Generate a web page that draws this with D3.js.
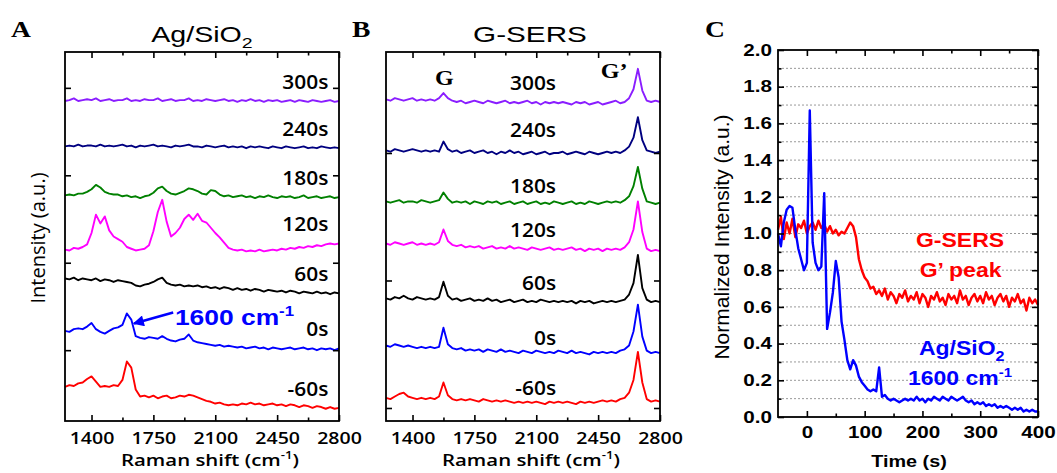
<!DOCTYPE html>
<html>
<head>
  <meta charset="utf-8">
  <title>Ag/SiO2 vs G-SERS</title>
  <script src="https://cdn.jsdelivr.net/npm/d3@7/dist/d3.min.js"></script>
  <style>
    body { margin: 0; background: #fff; }
  </style>
</head>
<body>
  <svg width="1057" height="473" id="mainsvg"></svg>
  <script>
    // Raman shift grid (cm-1), shared by panels A and B
    const ramanShift = [1250, 1275, 1300, 1325, 1350, 1375, 1400, 1425, 1450, 1475,
      1500, 1525, 1550, 1575, 1600, 1625, 1650, 1675, 1700, 1725,
      1750, 1775, 1800, 1825, 1850, 1875, 1900, 1925, 1950, 1975,
      2000, 2025, 2050, 2075, 2100, 2125, 2150, 2175, 2200, 2225,
      2250, 2275, 2300, 2325, 2350, 2375, 2400, 2425, 2450, 2475,
      2500, 2525, 2550, 2575, 2600, 2625, 2650, 2675, 2700, 2725,
      2750, 2775, 2800];
    const ramanTicks = [1400, 1750, 2100, 2450, 2800];
    const ramanMinor = [1575, 1925, 2275, 2625];
    const timeLabels = ['300s', '240s', '180s', '120s', '60s', '0s', '-60s'];
    const traceColors = ['#8a1dff', '#000080', '#008000', '#ff00ff', '#000000', '#0000ff', '#ff0000'];

    // A: Ag/SiO2 spectra, stacked (a.u.)
    const ag300 = [2.85, 2.86, 2.88, 2.85, 2.86, 2.87, 2.86, 2.88, 2.85, 2.86,
      2.87, 2.85, 2.86, 2.86, 2.88, 2.85, 2.86, 2.85, 2.87, 2.86,
      2.86, 2.88, 2.85, 2.86, 2.87, 2.85, 2.86, 2.86, 2.88, 2.85,
      2.86, 2.85, 2.87, 2.86, 2.85, 2.86, 2.87, 2.85, 2.86, 2.84,
      2.86, 2.85, 2.87, 2.85, 2.86, 2.84, 2.86, 2.85, 2.86, 2.84,
      2.85, 2.86, 2.84, 2.86, 2.85, 2.84, 2.86, 2.85, 2.84, 2.85,
      2.86, 2.84, 2.85];
    const ag240 = [2.33, 2.34, 2.33, 2.35, 2.33, 2.34, 2.34, 2.33, 2.35, 2.33,
      2.34, 2.33, 2.34, 2.35, 2.33, 2.34, 2.32, 2.34, 2.33, 2.34,
      2.35, 2.33, 2.34, 2.33, 2.32, 2.34, 2.33, 2.34, 2.35, 2.33,
      2.33, 2.32, 2.34, 2.33, 2.32, 2.33, 2.34, 2.32, 2.33, 2.32,
      2.33, 2.31, 2.33, 2.32, 2.33, 2.32, 2.31, 2.33, 2.32, 2.31,
      2.33, 2.32, 2.31, 2.32, 2.33, 2.31, 2.32, 2.31, 2.33, 2.32,
      2.31, 2.32, 2.31];
    const ag180 = [1.77, 1.78, 1.77, 1.79, 1.79, 1.81, 1.84, 1.89, 1.86, 1.81,
      1.79, 1.78, 1.78, 1.76, 1.77, 1.75, 1.76, 1.74, 1.76, 1.77,
      1.80, 1.85, 1.87, 1.82, 1.79, 1.78, 1.80, 1.82, 1.85, 1.84,
      1.82, 1.79, 1.78, 1.83, 1.82, 1.78, 1.76, 1.77, 1.75, 1.76,
      1.77, 1.75, 1.76, 1.74, 1.76, 1.75, 1.77, 1.75, 1.74, 1.76,
      1.75, 1.76, 1.74, 1.75, 1.77, 1.74, 1.75, 1.76, 1.74, 1.75,
      1.76, 1.74, 1.75];
    const ag120 = [1.15, 1.14, 1.17, 1.16, 1.18, 1.21, 1.34, 1.55, 1.45, 1.53,
      1.37, 1.30, 1.27, 1.24, 1.18, 1.16, 1.14, 1.15, 1.16, 1.20,
      1.36, 1.58, 1.72, 1.47, 1.30, 1.34, 1.40, 1.50, 1.55, 1.49,
      1.56, 1.48, 1.46, 1.40, 1.34, 1.29, 1.23, 1.17, 1.15, 1.14,
      1.15, 1.13, 1.14, 1.13, 1.15, 1.13, 1.14, 1.15, 1.14, 1.16,
      1.15, 1.17, 1.16, 1.18, 1.17, 1.19, 1.18, 1.20, 1.19, 1.21,
      1.22, 1.21, 1.22];
    const ag60 = [0.82, 0.81, 0.83, 0.80, 0.82, 0.81, 0.80, 0.82, 0.79, 0.81,
      0.80, 0.78, 0.80, 0.79, 0.78, 0.77, 0.74, 0.73, 0.75, 0.76,
      0.78, 0.81, 0.83, 0.77, 0.75, 0.74, 0.75, 0.73, 0.74, 0.73,
      0.74, 0.72, 0.73, 0.71, 0.72, 0.70, 0.72, 0.71, 0.69, 0.71,
      0.69, 0.70, 0.68, 0.70, 0.69, 0.67, 0.69, 0.68, 0.67, 0.68,
      0.66, 0.68, 0.67, 0.65, 0.67, 0.66, 0.65, 0.67, 0.65, 0.66,
      0.64, 0.66, 0.65];
    const ag0 = [0.22, 0.21, 0.24, 0.25, 0.24, 0.27, 0.31, 0.24, 0.21, 0.19,
      0.22, 0.25, 0.26, 0.29, 0.42, 0.35, 0.16, 0.14, 0.13, 0.15,
      0.14, 0.13, 0.16, 0.13, 0.11, 0.10, 0.12, 0.13, 0.18, 0.11,
      0.09, 0.08, 0.07, 0.06, 0.05, 0.06, 0.04, 0.05, 0.04, 0.03,
      0.04, 0.02, 0.03, 0.04, 0.02, 0.03, 0.01, 0.03, 0.02, 0.01,
      0.02, 0.03, 0.01, 0.02, 0.03, 0.01, 0.02, 0.00, 0.02, 0.01,
      0.02, 0.00, 0.02];
    const agm60 = [-0.42, -0.40, -0.41, -0.38, -0.37, -0.33, -0.30, -0.36, -0.42, -0.41,
      -0.42, -0.40, -0.41, -0.34, -0.13, -0.20, -0.45, -0.53, -0.52, -0.54,
      -0.52, -0.55, -0.53, -0.52, -0.55, -0.54, -0.52, -0.53, -0.51, -0.52,
      -0.54, -0.56, -0.58, -0.59, -0.61, -0.60, -0.62, -0.63, -0.62, -0.63,
      -0.61, -0.62, -0.60, -0.62, -0.61, -0.63, -0.62, -0.61, -0.63, -0.62,
      -0.64, -0.62, -0.63, -0.65, -0.63, -0.64, -0.66, -0.64, -0.65, -0.67,
      -0.65, -0.67, -0.66];

    // B: G-SERS spectra, stacked (a.u.)
    const gs300 = [2.42, 2.41, 2.43, 2.42, 2.41, 2.42, 2.43, 2.41, 2.42, 2.41,
      2.42, 2.41, 2.43, 2.47, 2.43, 2.41, 2.40, 2.41, 2.39, 2.40,
      2.41, 2.40, 2.39, 2.41, 2.40, 2.39, 2.40, 2.41, 2.39, 2.40,
      2.39, 2.40, 2.41, 2.39, 2.40, 2.38, 2.40, 2.39, 2.40, 2.39,
      2.40, 2.39, 2.38, 2.40, 2.39, 2.40, 2.38, 2.39, 2.40, 2.38,
      2.39, 2.40, 2.41, 2.39, 2.40, 2.43, 2.50, 2.66, 2.49, 2.41,
      2.40, 2.41, 2.40];
    const gs240 = [2.02, 2.01, 2.03, 2.02, 2.01, 2.02, 2.03, 2.02, 2.01, 2.02,
      2.01, 2.02, 2.01, 2.09, 2.03, 2.01, 2.02, 2.00, 2.01, 2.02,
      2.00, 2.01, 2.02, 2.00, 2.01, 1.99, 2.01, 2.00, 2.02, 2.00,
      2.01, 1.99, 2.00, 2.01, 1.99, 2.00, 2.01, 1.99, 2.00, 2.00,
      2.01, 1.99, 2.00, 2.01, 2.00, 1.99, 2.01, 2.00, 1.99, 2.00,
      2.01, 2.00, 2.01, 2.00, 2.02, 2.05, 2.12, 2.28, 2.10, 2.02,
      2.01, 2.00, 2.01];
    const gs180 = [1.62, 1.61, 1.62, 1.63, 1.61, 1.62, 1.62, 1.61, 1.63, 1.62,
      1.61, 1.62, 1.63, 1.69, 1.64, 1.61, 1.62, 1.61, 1.62, 1.60,
      1.62, 1.61, 1.60, 1.62, 1.61, 1.62, 1.60, 1.61, 1.62, 1.60,
      1.61, 1.62, 1.60, 1.61, 1.62, 1.60, 1.61, 1.60, 1.62, 1.61,
      1.60, 1.61, 1.62, 1.60, 1.61, 1.60, 1.62, 1.61, 1.60, 1.61,
      1.62, 1.61, 1.62, 1.61, 1.63, 1.66, 1.74, 1.89, 1.72, 1.62,
      1.61, 1.60, 1.61];
    const gs120 = [1.29, 1.28, 1.30, 1.29, 1.28, 1.29, 1.30, 1.28, 1.29, 1.28,
      1.29, 1.28, 1.30, 1.40, 1.31, 1.28, 1.27, 1.28, 1.26, 1.27,
      1.26, 1.27, 1.25, 1.26, 1.27, 1.25, 1.26, 1.25, 1.27, 1.25,
      1.26, 1.25, 1.24, 1.26, 1.25, 1.24, 1.25, 1.26, 1.24, 1.25,
      1.24, 1.25, 1.26, 1.24, 1.25, 1.23, 1.25, 1.24, 1.25, 1.23,
      1.25, 1.24, 1.25, 1.24, 1.26, 1.30, 1.40, 1.62, 1.38, 1.25,
      1.23, 1.24, 1.23];
    const gs60 = [0.86, 0.85, 0.87, 0.86, 0.88, 0.86, 0.85, 0.87, 0.86, 0.85,
      0.86, 0.85, 0.87, 0.99, 0.88, 0.85, 0.86, 0.84, 0.85, 0.86,
      0.84, 0.85, 0.84, 0.86, 0.84, 0.85, 0.83, 0.84, 0.85, 0.83,
      0.84, 0.85, 0.83, 0.84, 0.83, 0.85, 0.84, 0.83, 0.84, 0.83,
      0.84, 0.83, 0.84, 0.82, 0.84, 0.83, 0.84, 0.82, 0.83, 0.84,
      0.83, 0.84, 0.83, 0.84, 0.85, 0.89, 0.98, 1.20, 0.94, 0.85,
      0.83, 0.84, 0.83];
    const gs0 = [0.49, 0.48, 0.50, 0.49, 0.48, 0.49, 0.48, 0.47, 0.48, 0.47,
      0.48, 0.47, 0.48, 0.63, 0.50, 0.47, 0.46, 0.47, 0.45, 0.46,
      0.45, 0.46, 0.44, 0.46, 0.45, 0.44, 0.46, 0.44, 0.45, 0.44,
      0.43, 0.45, 0.44, 0.43, 0.45, 0.44, 0.43, 0.44, 0.43, 0.45,
      0.44, 0.43, 0.45, 0.43, 0.44, 0.43, 0.42, 0.44, 0.43, 0.44,
      0.43, 0.44, 0.43, 0.45, 0.46, 0.49, 0.60, 0.81, 0.56, 0.45,
      0.43, 0.44, 0.43];
    const gsm60 = [0.08, 0.07, 0.09, 0.11, 0.12, 0.09, 0.08, 0.07, 0.08, 0.07,
      0.08, 0.07, 0.09, 0.20, 0.10, 0.07, 0.06, 0.07, 0.06, 0.07,
      0.06, 0.05, 0.07, 0.06, 0.05, 0.06, 0.05, 0.06, 0.05, 0.04,
      0.05, 0.04, 0.05, 0.04, 0.05, 0.04, 0.03, 0.05, 0.04, 0.05,
      0.04, 0.05, 0.04, 0.03, 0.05, 0.04, 0.05, 0.04, 0.05, 0.06,
      0.05, 0.06, 0.05, 0.07, 0.08, 0.12, 0.22, 0.44, 0.20, 0.07,
      0.05, 0.06, 0.05];

    // C: normalized intensity vs time
    const timeC = [-50, -45, -40, -35, -30, -25, -20, -15, -10, -5,
      0, 5, 10, 15, 20, 25, 30, 35, 40, 45,
      50, 55, 60, 65, 70, 75, 80, 85, 90, 95,
      100, 105, 110, 115, 120, 125, 130, 135, 140, 145,
      150, 155, 160, 165, 170, 175, 180, 185, 190, 195,
      200, 205, 210, 215, 220, 225, 230, 235, 240, 245,
      250, 255, 260, 265, 270, 275, 280, 285, 290, 295,
      300, 305, 310, 315, 320, 325, 330, 335, 340, 345,
      350, 355, 360, 365, 370, 375, 380, 385, 390, 395,
      400];
    const gsersGprime = [1.02, 1.09, 0.97, 1.06, 1.00, 1.08, 0.98, 1.05, 1.03, 1.07,
      1.00, 1.04, 1.06, 1.02, 1.07, 1.03, 1.05, 1.01, 1.04, 1.00,
      1.02, 0.99, 1.01, 1.00, 1.03, 1.06, 1.04, 0.98, 0.86, 0.80,
      0.76, 0.74, 0.70, 0.71, 0.67, 0.69, 0.66, 0.70, 0.64, 0.68,
      0.66, 0.62, 0.67, 0.65, 0.69, 0.63, 0.66, 0.64, 0.68, 0.62,
      0.67, 0.65, 0.60, 0.66, 0.64, 0.68, 0.63, 0.65, 0.61, 0.67,
      0.64, 0.66, 0.62, 0.69, 0.64, 0.66, 0.61, 0.65, 0.67, 0.63,
      0.66, 0.62, 0.68, 0.64, 0.66, 0.61, 0.65, 0.67, 0.63, 0.66,
      0.60, 0.65, 0.63, 0.67, 0.62, 0.64, 0.58, 0.65, 0.62, 0.64,
      0.61];
    const agSiO2Peak = [1.00, 0.93, 1.06, 1.13, 1.15, 1.14, 1.02, 0.92, 0.86, 0.80,
      0.84, 1.67, 0.95, 0.84, 0.80, 0.82, 1.22, 0.48, 0.57, 0.68,
      0.85, 0.76, 0.52, 0.42, 0.31, 0.26, 0.31, 0.28, 0.22, 0.19,
      0.17, 0.15, 0.14, 0.15, 0.14, 0.27, 0.11, 0.12, 0.10, 0.09,
      0.10, 0.09, 0.08, 0.09, 0.10, 0.09, 0.10, 0.09, 0.11, 0.09,
      0.10, 0.08, 0.10, 0.09, 0.11, 0.10, 0.09, 0.11, 0.10, 0.09,
      0.11, 0.10, 0.09, 0.10, 0.11, 0.09, 0.08, 0.09, 0.07, 0.08,
      0.07, 0.08, 0.06, 0.07, 0.06, 0.07, 0.05, 0.06, 0.05, 0.06,
      0.05, 0.04, 0.05, 0.04, 0.05, 0.03, 0.04, 0.03, 0.04, 0.03,
      0.03];
    const timeTicks = [0, 100, 200, 300, 400];
    const timeMinor = [50, 150, 250, 350];
    const intensityTicks = [0, 0.2, 0.4, 0.6, 0.8, 1.0, 1.2, 1.4, 1.6, 1.8, 2.0];
    const intensityMinor = [0.1, 0.3, 0.5, 0.7, 0.9, 1.1, 1.3, 1.5, 1.7, 1.9];

    const sansA = "'Open Sans', sans-serif";
    const sansC = "'Liberation Sans', Arial, sans-serif";
    const serif = "'Liberation Serif', 'Times New Roman', serif";

    const svg = d3.select('#mainsvg');

    svg.append('defs').append('marker').attr('id', 'arrowBlue')
      .attr('markerUnits', 'userSpaceOnUse').attr('viewBox', '0 0 10 10')
      .attr('markerWidth', 12).attr('markerHeight', 11)
      .attr('refX', 9).attr('refY', 5).attr('orient', 'auto')
      .append('path').attr('d', 'M0,0 L10,5 L0,10 z').attr('fill', '#0000ff');

    // stretched text helper (the figure's lettering is wide)
    function label(parent, x, y, str, o) {
      const t = parent.append('text')
        .attr('transform', `translate(${x},${y}) scale(${o.sx || 1},1)`)
        .attr('font-family', o.font).attr('font-size', o.size)
        .attr('font-weight', o.weight || 400)
        .attr('text-anchor', o.anchor || 'start')
        .attr('fill', o.color || '#000');
      if (str !== null) t.text(str);
      return t;
    }

    // inward ticks on all four sides, no labels
    function frameTicks(g, x, y, fr, xMajor, xMinor, yMajor, yMinor) {
      const parts = [
        [d3.axisBottom(x).tickValues(xMajor).tickSize(-6), `translate(0,${fr.bottom})`],
        [d3.axisBottom(x).tickValues(xMinor).tickSize(-3.5), `translate(0,${fr.bottom})`],
        [d3.axisTop(x).tickValues(xMajor).tickSize(-6), `translate(0,${fr.top})`],
        [d3.axisTop(x).tickValues(xMinor).tickSize(-3.5), `translate(0,${fr.top})`],
        [d3.axisLeft(y).tickValues(yMajor).tickSize(-6), `translate(${fr.left},0)`],
        [d3.axisRight(y).tickValues(yMajor).tickSize(-6), `translate(${fr.right},0)`]
      ];
      if (yMinor) {
        parts.push([d3.axisLeft(y).tickValues(yMinor).tickSize(-3.5), `translate(${fr.left},0)`]);
        parts.push([d3.axisRight(y).tickValues(yMinor).tickSize(-3.5), `translate(${fr.right},0)`]);
      }
      parts.forEach(p => {
        const a = g.append('g').attr('transform', p[1]).call(p[0]);
        a.select('.domain').remove();
        a.selectAll('text').remove();
        a.selectAll('line').attr('stroke-width', 1.6);
      });
    }

    // label-only axis (tick lines drawn by frameTicks)
    function tickLabels(g, axis, transform, font, size, weight, sx) {
      const a = g.append('g').attr('transform', transform).call(axis.tickSize(0));
      a.select('.domain').remove();
      a.selectAll('line').remove();
      a.attr('font-family', font).attr('font-size', size).attr('font-weight', weight);
      a.selectAll('text').attr('transform', `scale(${sx},1)`);
      return a;
    }

    // ---------- panels A and B ----------
    function spectraPanel(fr, yDomain, yTicks, series) {
      const g = svg.append('g');
      const x = d3.scaleLinear().domain([1250, 2800]).range([fr.left, fr.right]);
      const y = d3.scaleLinear().domain(yDomain).range([fr.bottom, fr.top]);
      const line = d3.line().x((d, i) => x(ramanShift[i])).y(d => y(d));
      series.forEach((s, i) => {
        g.append('path').datum(s).attr('d', line)
          .attr('fill', 'none').attr('stroke', traceColors[i])
          .attr('stroke-width', 1.9).attr('stroke-linejoin', 'round');
      });
      frameTicks(g, x, y, fr, ramanTicks, ramanMinor, yTicks, null);
      tickLabels(g, d3.axisBottom(x).tickValues(ramanTicks).tickPadding(11).tickFormat(d3.format('d')),
        `translate(0,${fr.bottom})`, sansA, 17, 600, 1.15);
      g.append('rect').attr('x', fr.left).attr('y', fr.top)
        .attr('width', fr.right - fr.left).attr('height', fr.bottom - fr.top)
        .attr('fill', 'none').attr('stroke', '#000').attr('stroke-width', 1.8);

      // x title
      const t = label(g, (fr.left + fr.right) / 2 + 8, 466, null,
        { font: sansA, size: 17, weight: 600, anchor: 'middle', sx: 1.2 });
      t.append('tspan').text('Raman shift (cm');
      t.append('tspan').attr('dy', -7).attr('font-size', 11).text('-1');
      t.append('tspan').attr('dy', 7).text(')');
      return { g, x, y };
    }

    const frA = { left: 65, right: 339, top: 52, bottom: 421 };
    const frB = { left: 386, right: 660, top: 52, bottom: 421 };
    const frC = { left: 778, right: 1038, top: 50, bottom: 417 };

    const pA = spectraPanel(frA, [-0.81, 3.41], [0, 1, 2, 3],
      [ag300, ag240, ag180, ag120, ag60, ag0, agm60]);
    const pB = spectraPanel(frB, [-0.102, 2.792], [0, 1, 2],
      [gs300, gs240, gs180, gs120, gs60, gs0, gsm60]);

    // time labels, A: right aligned above the right end of each trace
    [ag300, ag240, ag180, ag120, ag60, ag0, agm60].forEach((s, i) => {
      label(pA.g, pA.x(2740), pA.y(s[s.length - 1]) - 12, timeLabels[i],
        { font: sansA, size: 19, weight: 600, anchor: 'end', sx: 1.1 });
    });
    // time labels, B
    const labelYB = [2.494, 2.125, 1.686, 1.341, 0.925, 0.494, 0.102];
    labelYB.forEach((v, i) => {
      label(pB.g, pB.x(2212), pB.y(v), timeLabels[i],
        { font: sansA, size: 19, weight: 600, anchor: 'end', sx: 1.1 });
    });

    // y title A
    svg.append('text').attr('transform', `translate(45,238) rotate(-90)`)
      .attr('text-anchor', 'middle').attr('font-family', sansA)
      .attr('font-size', 20).attr('font-weight', 400).text('Intensity (a.u.)');

    // panel titles
    const tA = label(svg, 202, 42, null, { font: sansC, size: 22, anchor: 'middle', sx: 1.3 });
    tA.append('tspan').text('Ag/SiO');
    tA.append('tspan').attr('dy', 6).attr('font-size', 15).text('2');
    label(svg, 530, 42, 'G-SERS', { font: sansC, size: 22, anchor: 'middle', sx: 1.35 });

    // panel letters
    label(svg, 11, 37, 'A', { font: serif, size: 23, weight: 700, sx: 1.2 });
    label(svg, 352, 37, 'B', { font: serif, size: 23, weight: 700, sx: 1.2 });
    label(svg, 705, 37, 'C', { font: serif, size: 23, weight: 700, sx: 1.2 });

    // G and G' markers in B
    label(pB.g, pB.x(1580), 85, 'G', { font: serif, size: 21, weight: 700, anchor: 'middle', sx: 1.15 });
    label(pB.g, pB.x(2540), 78, 'G\u2019', { font: serif, size: 21, weight: 700, anchor: 'middle', sx: 1.15 });

    // 1600 cm-1 annotation with arrow in A
    pA.g.append('line')
      .attr('x1', pA.x(1862)).attr('y1', pA.y(0.43))
      .attr('x2', pA.x(1640)).attr('y2', pA.y(0.305))
      .attr('stroke', '#0000ff').attr('stroke-width', 2.6)
      .attr('marker-end', 'url(#arrowBlue)');
    const ann = label(pA.g, pA.x(1872), pA.y(0.29), null,
      { font: sansC, size: 22, weight: 700, color: '#0000ff', sx: 1.2 });
    ann.append('tspan').text('1600 cm');
    ann.append('tspan').attr('dy', -9).attr('font-size', 14).text('-1');

    // ---------- panel C ----------
    const gC = svg.append('g');
    const xC = d3.scaleLinear().domain([-50, 400]).range([frC.left, frC.right]);
    const yC = d3.scaleLinear().domain([0, 2]).range([frC.bottom, frC.top]);

    gC.selectAll('line.grid').data(intensityTicks.concat(intensityMinor).filter(v => v > 0 && v < 2))
      .join('line').attr('class', 'grid')
      .attr('x1', frC.left).attr('x2', frC.right)
      .attr('y1', d => yC(d)).attr('y2', d => yC(d))
      .attr('stroke', '#999').attr('stroke-width', 1).attr('stroke-dasharray', '2,2');

    const lineC = d3.line().x((d, i) => xC(timeC[i])).y(d => yC(d));
    gC.append('path').datum(gsersGprime).attr('d', lineC)
      .attr('fill', 'none').attr('stroke', '#ff0000').attr('stroke-width', 2.4).attr('stroke-linejoin', 'round');
    gC.append('path').datum(agSiO2Peak).attr('d', lineC)
      .attr('fill', 'none').attr('stroke', '#0000ff').attr('stroke-width', 2.4).attr('stroke-linejoin', 'round');

    frameTicks(gC, xC, yC, frC, timeTicks, timeMinor, intensityTicks, intensityMinor);
    tickLabels(gC, d3.axisBottom(xC).tickValues(timeTicks).tickPadding(9).tickFormat(d3.format('d')),
      `translate(0,${frC.bottom})`, sansC, 16.5, 700, 1.25);
    tickLabels(gC, d3.axisLeft(yC).tickValues(intensityTicks).tickPadding(4.8).tickFormat(d3.format('.1f')),
      `translate(${frC.left},0)`, sansC, 16.5, 700, 1.25);

    gC.append('rect').attr('x', frC.left).attr('y', frC.top)
      .attr('width', frC.right - frC.left).attr('height', frC.bottom - frC.top)
      .attr('fill', 'none').attr('stroke', '#000').attr('stroke-width', 1.8);

    label(gC, 909, 467, 'Time (s)', { font: sansC, size: 16.5, weight: 700, anchor: 'middle', sx: 1.2 });
    svg.append('text').attr('transform', `translate(729,237) rotate(-90)`)
      .attr('text-anchor', 'middle').attr('font-family', sansC)
      .attr('font-size', 21).text('Normalized Intensity (a.u.)');

    const cText = { font: sansC, size: 20, weight: 700, anchor: 'middle', sx: 1.15 };
    label(gC, xC(265), yC(0.926), 'G-SERS', Object.assign({ color: '#ff0000' }, cText));
    label(gC, xC(266), yC(0.763), 'G\u2019 peak', Object.assign({ color: '#ff0000' }, cText));
    const cAg = label(gC, xC(268), yC(0.338), null, Object.assign({ color: '#0000ff' }, cText));
    cAg.append('tspan').text('Ag/SiO');
    cAg.append('tspan').attr('dy', 6).attr('font-size', 14).text('2');
    const c1600 = label(gC, xC(265), yC(0.174), null, Object.assign({ color: '#0000ff' }, cText));
    c1600.append('tspan').text('1600 cm');
    c1600.append('tspan').attr('dy', -8).attr('font-size', 13).text('-1');
  </script>
</body>
</html>
